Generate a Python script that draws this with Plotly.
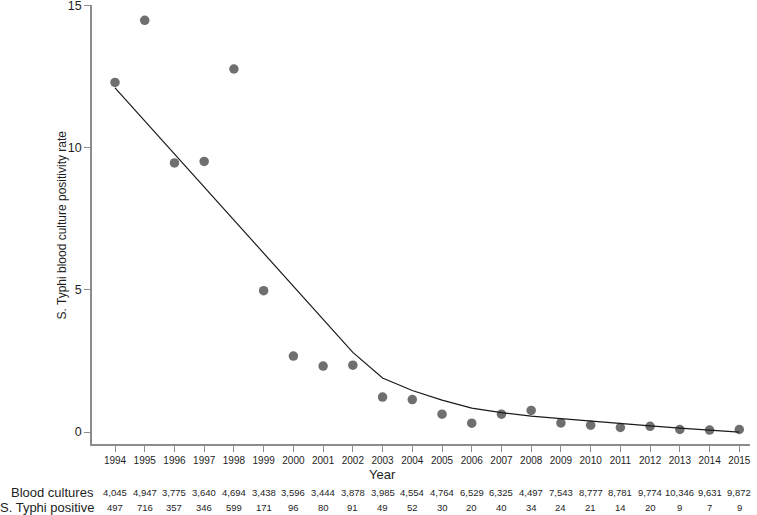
import plotly.graph_objects as go

years = list(range(1994, 2016))
blood_cultures = ["4,045", "4,947", "3,775", "3,640", "4,694", "3,438", "3,596", "3,444", "3,878", "3,985", "4,554",
                  "4,764", "6,529", "6,325", "4,497", "7,543", "8,777", "8,781", "9,774", "10,346", "9,631", "9,872"]
typhi_positive = ["497", "716", "357", "346", "599", "171", "96", "80", "91", "49", "52",
                  "30", "20", "40", "34", "24", "21", "14", "20", "9", "7", "9"]
positivity_rate = [12.29, 14.47, 9.46, 9.51, 12.76, 4.97, 2.67, 2.32, 2.35, 1.23, 1.14,
                   0.63, 0.31, 0.63, 0.76, 0.32, 0.24, 0.16, 0.20, 0.09, 0.07, 0.09]
fitted_rate = [12.1, 10.94, 9.78, 8.61, 7.45, 6.29, 5.13, 3.96, 2.8, 1.9, 1.46,
               1.12, 0.84, 0.68, 0.56, 0.47, 0.38, 0.3, 0.22, 0.14, 0.07, 0.0]
y_ticks = [0, 5, 10, 15]

FONT = "Liberation Sans, Arial, sans-serif"
AXIS_COLOR = "#8c8c8c"
TEXT_COLOR = "#1e1e1e"

fig = go.Figure()
fig.add_trace(go.Scatter(x=years, y=positivity_rate, mode="markers",
                         marker=dict(size=9.5, color="#6f6f6f", line=dict(width=0)),
                         showlegend=False, hoverinfo="x+y"))
fig.add_trace(go.Scatter(x=years, y=fitted_rate, mode="lines",
                         line=dict(color="#1a1a1a", width=1.2),
                         showlegend=False, hoverinfo="x+y"))

annotations = []
for yr, bc, tp in zip(years, blood_cultures, typhi_positive):
    annotations.append(dict(x=yr, xref="x", y=-0.1116, yref="paper", text=bc, showarrow=False,
                            xanchor="center", yanchor="middle",
                            font=dict(family=FONT, size=9.5, color=TEXT_COLOR)))
    annotations.append(dict(x=yr, xref="x", y=-0.1451, yref="paper", text=tp, showarrow=False,
                            xanchor="center", yanchor="middle",
                            font=dict(family=FONT, size=9.5, color=TEXT_COLOR)))
annotations.append(dict(x=0.006, xref="paper", y=-0.1116, yref="paper", text="Blood cultures",
                        showarrow=False, xanchor="right", yanchor="middle",
                        font=dict(family=FONT, size=13, color=TEXT_COLOR)))
annotations.append(dict(x=0.006, xref="paper", y=-0.1451, yref="paper", text="S. Typhi positive",
                        showarrow=False, xanchor="right", yanchor="middle",
                        font=dict(family=FONT, size=13, color=TEXT_COLOR)))
annotations.append(dict(x=0.442, xref="paper", y=-0.0706, yref="paper", text="Year",
                        showarrow=False, xanchor="center", yanchor="middle",
                        font=dict(family=FONT, size=13, color=TEXT_COLOR)))
annotations.append(dict(x=-0.0456, xref="paper", y=0.5, yref="paper",
                        text="S. Typhi blood culture positivity rate",
                        showarrow=False, textangle=-90, xanchor="center", yanchor="middle",
                        font=dict(family=FONT, size=12, color=TEXT_COLOR)))

fig.update_layout(
    width=757, height=515,
    margin=dict(l=92, r=7, t=5, b=71, autoexpand=False),
    paper_bgcolor="white", plot_bgcolor="white",
    font=dict(family=FONT, color=TEXT_COLOR),
    annotations=annotations,
    xaxis=dict(range=[1993.226, 2015.36], tickmode="array", tickvals=years,
               ticktext=[str(y) for y in years], showgrid=False, zeroline=False,
               showline=True, linecolor=AXIS_COLOR, linewidth=1.5,
               ticks="outside", ticklen=6, tickcolor=AXIS_COLOR, tickwidth=1,
               ticklabeloverflow="allow", automargin=False,
               tickfont=dict(family=FONT, size=10, color=TEXT_COLOR)),
    yaxis=dict(range=[-0.42, 15.01], tickmode="array", tickvals=y_ticks,
               ticktext=[str(t) for t in y_ticks],
               showgrid=False, zeroline=False,
               showline=True, linecolor=AXIS_COLOR, linewidth=1.5,
               ticks="outside", ticklen=6, tickcolor=AXIS_COLOR, tickwidth=1,
               ticklabeloverflow="allow", automargin=False,
               tickfont=dict(family=FONT, size=12.5, color=TEXT_COLOR)),
)

fig.write_html("out.html", config={"displayModeBar": False},
               post_script="document.body.style.margin='0';document.body.style.overflow='hidden';")
